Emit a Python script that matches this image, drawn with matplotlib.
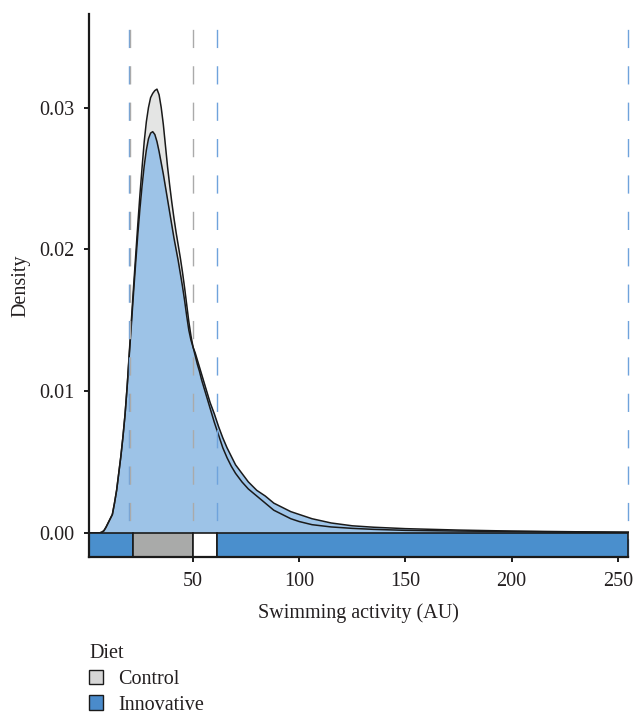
import matplotlib
matplotlib.use("Agg")
import matplotlib.pyplot as plt
from matplotlib.patches import Patch, Rectangle
from matplotlib.ticker import FormatStrFormatter

plt.rcParams['font.family'] = ['Liberation Serif', 'DejaVu Serif']

# --- data ---
ctrl_x = [1, 6, 7, 8, 9, 10, 11, 12, 13, 14, 15, 16, 17, 18, 19, 20, 21, 22, 23, 24, 25,
          26, 27, 28, 29, 30, 31, 32, 33, 34, 35, 36, 37, 38, 39, 40, 41, 42, 43, 44, 45,
          46, 47, 48, 49, 50, 51, 52, 53, 54, 55, 56, 57, 58, 59, 60, 62, 64, 66, 68, 70,
          73, 76, 80, 84, 88, 92, 96, 100, 106, 115, 125, 135, 150, 175, 200, 230, 255]
ctrl_y = [0, 0, 0.00005, 0.00015, 0.0004, 0.0007, 0.0010, 0.0013, 0.0021, 0.0030, 0.0042,
          0.0054, 0.0068, 0.0084, 0.0104, 0.0128, 0.0151, 0.0174, 0.0196, 0.0218, 0.0239,
          0.0258, 0.0276, 0.0290, 0.0300, 0.0307, 0.0310, 0.0312, 0.0313, 0.0309, 0.0300,
          0.0288, 0.0273, 0.0258, 0.0245, 0.0233, 0.0222, 0.0212, 0.0203, 0.0194, 0.0184,
          0.0173, 0.0161, 0.0149, 0.0139, 0.0131, 0.0125, 0.0119, 0.0114, 0.0108, 0.0103,
          0.0098, 0.0093, 0.0088, 0.0083, 0.0078, 0.0069, 0.0060, 0.0053, 0.0047, 0.0042,
          0.0036, 0.0031, 0.0026, 0.0021, 0.0016, 0.0013, 0.0010, 0.0008, 0.00058, 0.00042,
          0.00032, 0.00025, 0.00018, 0.00013, 0.0001, 0.00006, 0.00004]

innov_x = [1, 6, 7, 8, 9, 10, 11, 12, 13, 14, 15, 16, 17, 18, 19, 20, 21, 22, 23, 24, 25,
           26, 27, 28, 29, 30, 31, 32, 33, 34, 35, 36, 37, 38, 39, 40, 41, 42, 43, 44, 45,
           46, 47, 48, 49, 50, 51, 52, 53, 54, 55, 56, 57, 58, 59, 60, 62, 64, 66, 68, 70,
           73, 76, 80, 84, 88, 92, 96, 100, 106, 115, 125, 135, 150, 175, 200, 230, 255]
innov_y = [0, 0, 0.00005, 0.00015, 0.0004, 0.0007, 0.0010, 0.0013, 0.0021, 0.0030, 0.0042,
           0.0054, 0.0068, 0.0084, 0.0104, 0.0126, 0.0148, 0.0170, 0.0191, 0.0211, 0.0229,
           0.0245, 0.0259, 0.0270, 0.0278, 0.0282, 0.0283, 0.0281, 0.0276, 0.0269, 0.0261,
           0.0253, 0.0244, 0.0235, 0.0226, 0.0217, 0.0208, 0.0200, 0.0192, 0.0183, 0.0174,
           0.0164, 0.0153, 0.0143, 0.0136, 0.0131, 0.0127, 0.0122, 0.0117, 0.0112, 0.0107,
           0.0102, 0.0097, 0.0092, 0.0088, 0.0084, 0.0075, 0.0067, 0.0060, 0.0054, 0.0048,
           0.0042, 0.0036, 0.0030, 0.0026, 0.0021, 0.0018, 0.0015, 0.0013, 0.0010, 0.0007,
           0.0005, 0.0004, 0.0003, 0.0002, 0.00013, 0.00008, 0.00005]

ctrl_vlines = [20.5, 50]
innov_vlines = [20, 61.3, 255]

band_edges = [1, 21.7, 50, 61.3, 255]
band_colors = ['#4a8fcd', '#a9aaa9', '#ffffff', '#4a8fcd']

tick_x = [50, 100, 150, 200, 250]
tick_y = [0.00, 0.01, 0.02, 0.03]
legend_labels = ['Control', 'Innovative']
legend_colors = ['#d6d6d6', '#4a8bcb']

FS = 14.5
TXT = '#231f20'

# --- figure ---
fig = plt.figure(figsize=(6.34, 7.16), dpi=100)
ax = fig.add_axes([89 / 634, 1 - 557 / 716, (628.5 - 89) / 634, (557 - 14) / 716])

ax.fill_between(ctrl_x, 0, ctrl_y, color='#e4e5e4', lw=0, zorder=1)
ax.fill_between(innov_x, 0, innov_y, color='#96c0e8', alpha=0.9, lw=0, zorder=2)
ax.plot(ctrl_x, ctrl_y, color='#1a1a1a', lw=1.1, zorder=3)
ax.plot(innov_x, innov_y, color='#1a1a1a', lw=1.1, zorder=3)

for v in innov_vlines:
    ax.axvline(v, color='#6fa3dc', lw=1.0, dashes=(13.1, 13.1), zorder=4, clip_on=False)
for v in ctrl_vlines:
    ax.axvline(v, color='#aaaaaa', lw=1.0, dashes=(13.1, 13.1), zorder=4, clip_on=False)

band_bottom = -0.0017
for i, c in enumerate(band_colors):
    ax.add_patch(Rectangle((band_edges[i], band_bottom), band_edges[i + 1] - band_edges[i],
                           -band_bottom, facecolor=c, edgecolor='#1a1a1a', lw=1.2,
                           zorder=5, clip_on=False))

ax.set_xlim(1, 255)
ax.set_ylim(band_bottom, 0.0366)
ax.set_xticks(tick_x)
ax.set_yticks(tick_y)
ax.yaxis.set_major_formatter(FormatStrFormatter('%.2f'))

for s in ['top', 'right']:
    ax.spines[s].set_visible(False)
for s in ['left', 'bottom']:
    ax.spines[s].set_linewidth(1.6)
    ax.spines[s].set_color('#1a1a1a')
    ax.spines[s].set_zorder(6)
ax.tick_params(axis='both', length=3.5, width=1.4, color='#1a1a1a', labelsize=FS,
               labelcolor=TXT, pad=7)

ax.set_xlabel('Swimming activity (AU)', fontsize=FS, color=TXT, labelpad=9)
ax.set_ylabel('Density', fontsize=FS, color=TXT, labelpad=6)

handles = [Patch(facecolor=c, edgecolor='#1a1a1a', lw=1.0) for c in legend_colors]
leg = fig.legend(handles, legend_labels, title='Diet', loc='upper left',
                 bbox_to_anchor=(81 / 634, 1 - 636 / 716), frameon=False,
                 fontsize=FS, title_fontsize=FS, alignment='left',
                 handlelength=0.7, handleheight=0.7, handletextpad=0.75,
                 labelspacing=0.33, borderaxespad=0)
leg.get_title().set_color(TXT)
for t in leg.get_texts():
    t.set_color(TXT)

fig.savefig('out.png', dpi=100)
